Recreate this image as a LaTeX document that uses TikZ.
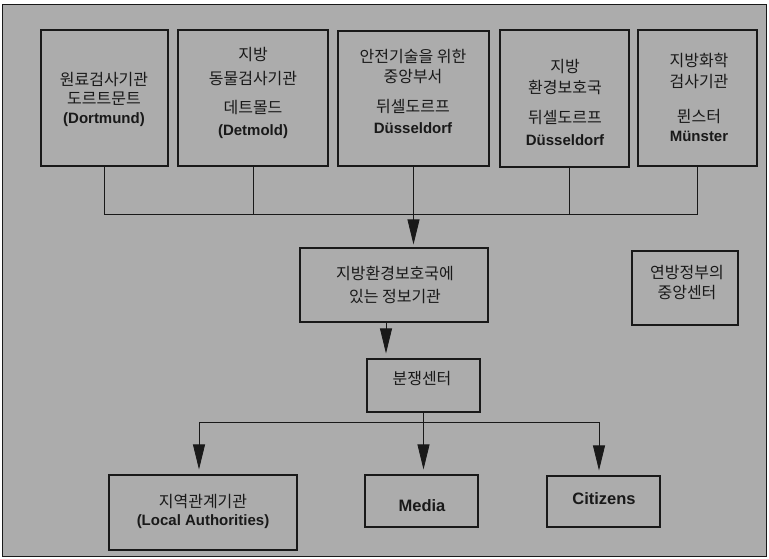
\documentclass[tikz,border=0pt]{standalone}
\usepackage{fontspec}
\setmainfont{Liberation Sans}
\newfontfamily\kr{Noto Sans CJK KR}
\usetikzlibrary{arrows.meta}
\definecolor{bg}{RGB}{172,172,172}
\definecolor{ink}{RGB}{25,25,25}
\tikzset{
 box/.style={draw=ink, line width=1.1pt, inner sep=0pt},
 conn/.style={draw=ink, line width=0.8pt},
 arr/.style={conn, -{Triangle[length=25pt,width=12pt]}, shorten >=5pt},
 kt/.style={font=\kr\fontsize{16}{19}\selectfont, text=ink, inner sep=0pt},
 lt/.style={font=\fontsize{15}{18}\selectfont\bfseries, text=ink, inner sep=0pt},
 bt/.style={font=\fontsize{16.5}{19}\selectfont\bfseries, text=ink, inner sep=0pt},
}
\begin{document}
\begin{tikzpicture}[x=1pt,y=-1pt]
\useasboundingbox (0,0) rectangle (769,559);
\fill[white] (0,0) rectangle (769,559);
\draw[fill=bg, draw=ink, line width=1pt] (2,5) rectangle (766,556);

% top row boxes
\node[box, minimum width=127pt, minimum height=136pt] (b1) at (104.5,98) {};
\node[box, minimum width=150pt, minimum height=136pt] (b2) at (253,98) {};
\node[box, minimum width=151pt, minimum height=135pt] (b3) at (413.5,98.5) {};
\node[box, minimum width=129pt, minimum height=137pt] (b4) at (564.5,98.5) {};
\node[box, minimum width=119pt, minimum height=136pt] (b5) at (697.5,98) {};

% middle boxes
\node[box, minimum width=188pt, minimum height=74pt] (c) at (394,285) {};
\node[box, minimum width=113pt, minimum height=53pt] (d) at (423.5,385.5) {};
\node[box, minimum width=106pt, minimum height=74pt] (f) at (685,288) {};

% bottom boxes
\node[box, minimum width=188pt, minimum height=75pt] (l) at (203,512.5) {};
\node[box, minimum width=113pt, minimum height=52pt] (m) at (421.5,501) {};
\node[box, minimum width=113pt, minimum height=51pt] (z) at (603.5,501.5) {};

% texts
\node[kt] (t1a) at (104,80) {원료검사기관};
\node[kt] (t1b) at (104,99) {도르트문트};
\node[lt] (t1c) at (104,120) {(Dortmund)};

\node[kt] (t2a) at (253,55) {지방};
\node[kt] (t2b) at (253,79) {동물검사기관};
\node[kt] (t2c) at (253,108) {데트몰드};
\node[lt] (t2d) at (253,132) {(Detmold)};

\node[kt] (t3a) at (413,57) {안전기술을 위한};
\node[kt] (t3b) at (413,77) {중앙부서};
\node[kt] (t3c) at (413,107) {뒤셀도르프};
\node[lt] (t3d) at (413,128) {Düsseldorf};

\node[kt] (t4a) at (565,67) {지방};
\node[kt] (t4b) at (565,87) {환경보호국};
\node[kt] (t4c) at (565,118) {뒤셀도르프};
\node[lt] (t4d) at (565,140) {Düsseldorf};

\node[kt] (t5a) at (699,60) {지방화학};
\node[kt] (t5b) at (699,82) {검사기관};
\node[kt] (t5c) at (699,117) {뮌스터};
\node[lt] (t5d) at (699,136) {Münster};

\node[kt] (tca) at (395,273) {지방환경보호국에};
\node[kt] (tcb) at (395,297) {있는 정보기관};
\node[kt] (td) at (422,379) {분쟁센터};
\node[kt] (tfa) at (687,273) {연방정부의};
\node[kt] (tfb) at (687,293) {중앙센터};

\node[kt] (tla) at (203,502) {지역관계기관};
\node[lt] (tlb) at (203,522) {(Local Authorities)};
\node[bt] (tm) at (422,506) {Media};
\node[bt] (tz) at (604,499) {Citizens};

% upper bus
\coordinate (busL) at (104,214);
\coordinate (busR) at (698,214);
\coordinate (x4) at (569,214);
\draw[conn] (b1.south) -- (b1.south |- busL) -- (b5.south |- busR) -- (b5.south);
\draw[conn] (b2.south) -- (b2.south |- busL);
\draw[conn] (b3.south) -- (b3.south |- busL);
\draw[conn] (x4 |- b4.south) -- (x4);
\draw[arr, shorten >=3pt] (b3.south |- busL) -- (b3.south |- c.north);

% info centre to dispute centre
\coordinate (x2) at (386,0);
\draw[arr] (x2 |- c.south) -- (x2 |- d.north);

% lower bus
\coordinate (lbL) at (199,422);
\coordinate (lbR) at (599,422);
\draw[conn] (d.south) -- (d.south |- lbL);
\draw[conn] (lbL) -- (lbR);
\draw[arr] (lbL) -- (lbL |- l.north);
\draw[arr] (d.south |- lbL) -- (d.south |- m.north);
\draw[arr] (lbR) -- (lbR |- z.north);
\end{tikzpicture}
\end{document}
